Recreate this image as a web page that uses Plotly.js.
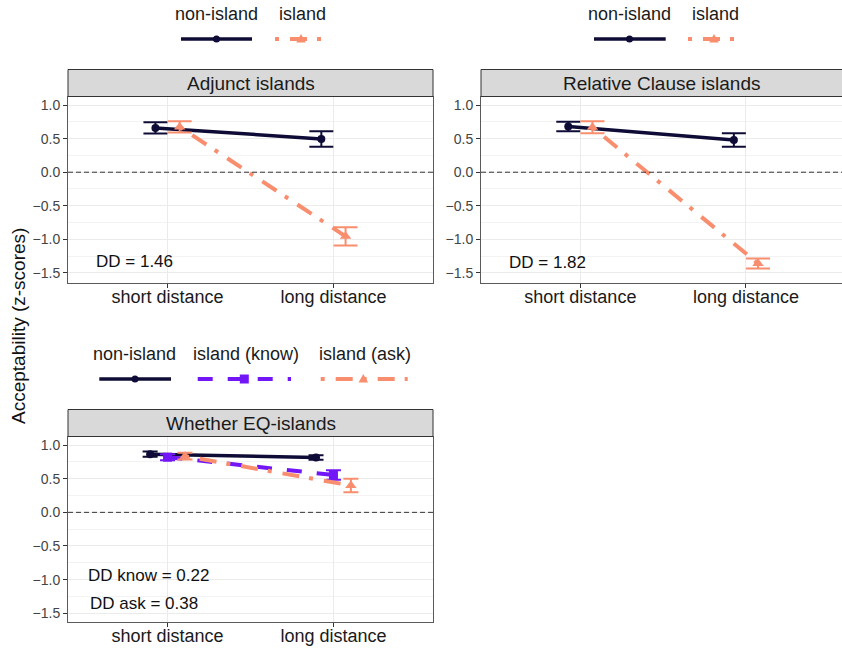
<!DOCTYPE html>
<html><head><meta charset="utf-8">
<script src="https://cdn.plot.ly/plotly-3.0.1.min.js"></script>
<style>html,body{margin:0;padding:0;background:#fff}</style>
</head><body><div id="chart" style="width:842px;height:649px"></div>
<script>
// ---------- DATA ----------
const categories = ["short distance", "long distance"];
const panelTitles = ["Adjunct islands", "Relative Clause islands", "Whether EQ-islands"];
const yTickVals = [-1.5, -1.0, -0.5, 0.0, 0.5, 1.0];
const ddPanel1 = ["DD = 1.46"];
const ddPanel2 = ["DD = 1.82"];
const ddPanel3 = ["DD know = 0.22", "DD ask = 0.38"];
const legendNames2 = ["non-island", "island"];
const legendNames3 = ["non-island", "island (know)", "island (ask)"];

// Adjunct islands
const adjNonIsland   = [0.66, 0.495];
const adjNonIslandSE = [0.085, 0.115];
const adjIsland      = [0.675, -0.955];
const adjIslandSE    = [0.085, 0.135];
// Relative Clause islands
const rcNonIsland    = [0.68, 0.48];
const rcNonIslandSE  = [0.07, 0.10];
const rcIsland       = [0.67, -1.36];
const rcIslandSE     = [0.09, 0.075];
// Whether EQ-islands
const wqNonIsland    = [0.865, 0.815];
const wqNonIslandSE  = [0.04, 0.035];
const wqKnow         = [0.82, 0.555];
const wqKnowSE       = [0.045, 0.07];
const wqAsk          = [0.835, 0.40];
const wqAskSE        = [0.05, 0.10];

// ---------- STYLE ----------
const W = 842, H = 649;
const FONT = "Liberation Sans, Arial, Helvetica, sans-serif";
const px2x = p => p / W;
const px2y = p => 1 - p / H;
const ST = {
  non:   {color: "#0e0c36", dash: "solid", symbol: "circle", size: 8, width: 3.5},
  isl:   {color: "#f98e6f", dash: "4px,11px,17px,10px", symbol: "triangle-up", size: 10, width: 4},
  know:  {color: "#7316f7", dash: "15px,15px", symbol: "square", size: 9, width: 4},
  ask:   {color: "#f98e6f", dash: "4px,11px,17px,10px", symbol: "triangle-up", size: 10, width: 4}
};

function mk(ax, vals, se, offset, st, ebw, name) {
  return {
    type: "scatter", mode: "lines+markers", name: name,
    xaxis: "x" + (ax === 1 ? "" : ax), yaxis: "y" + (ax === 1 ? "" : ax),
    x: categories.map((c, i) => i + 1 + offset),
    y: vals,
    line: {color: st.color, width: st.width, dash: st.dash},
    marker: {color: st.color, symbol: st.symbol, size: st.size, line: {width: 0}},
    error_y: {type: "data", array: se, visible: true, color: st.color, thickness: 2, width: ebw},
    showlegend: false, hoverinfo: "skip"
  };
}

const traces = [
  mk(1, adjNonIsland, adjNonIslandSE, -0.073, ST.non, 12, "non-island"),
  mk(1, adjIsland, adjIslandSE, 0.073, ST.isl, 12, "island"),
  mk(2, rcNonIsland, rcNonIslandSE, -0.073, ST.non, 12, "non-island"),
  mk(2, rcIsland, rcIslandSE, 0.073, ST.isl, 12, "island"),
  mk(3, wqNonIsland, wqNonIslandSE, -0.105, ST.non, 7.5, "non-island"),
  mk(3, wqKnow, wqKnowSE, 0, ST.know, 7.5, "island (know)"),
  mk(3, wqAsk, wqAskSE, 0.105, ST.ask, 7.5, "island (ask)")
];

function xax(dom, rng, anchor) {
  return {
    domain: dom, range: rng, anchor: anchor, tickvals: [1, 2], ticktext: categories,
    showgrid: true, gridcolor: "#ebebeb", gridwidth: 1, zeroline: false,
    showline: true, mirror: true, linecolor: "#5a5a5a", linewidth: 1,
    ticks: "outside", ticklen: 4, tickcolor: "#333", tickwidth: 1, ticklabelstandoff: -7,
    tickfont: {family: FONT, size: 18, color: "#1a1a1a"}, fixedrange: true
  };
}
function yax(dom, rng, anchor) {
  return {
    domain: dom, range: rng, anchor: anchor, tickvals: yTickVals, tickformat: ".1f",
    showgrid: true, gridcolor: "#ebebeb", gridwidth: 1, zeroline: false,
    minor: {dtick: 0.25, tick0: 0, showgrid: true, gridcolor: "#f3f3f3", gridwidth: 1, ticks: ""},
    showline: true, mirror: true, linecolor: "#5a5a5a", linewidth: 1,
    ticks: "outside", ticklen: 4, tickcolor: "#333", tickwidth: 1,
    tickfont: {family: FONT, size: 14, color: "#444"}, fixedrange: true
  };
}

const topDom = [px2y(283), px2y(97)];
const botDom = [px2y(622), px2y(437)];
const leftDom = [px2x(68), px2x(433)];
const rightDom = [px2x(481), 1];

const shapes = [];
const annotations = [];

// zero dashed lines
["x", "x2", "x3"].forEach((xa, i) => {
  shapes.push({type: "line", xref: xa + " domain", yref: "y" + (i ? i + 1 : ""), x0: 0, x1: 1, y0: 0, y1: 0,
    line: {color: "#333", width: 1, dash: "5px,3px"}});
});

// strips
function strip(x0, x1, y0, y1, text) {
  shapes.push({type: "rect", xref: "paper", yref: "paper", x0: px2x(x0), x1: px2x(x1), y0: px2y(y1), y1: px2y(y0),
    fillcolor: "#d9d9d9", line: {color: "#333", width: 1}});
  annotations.push({xref: "paper", yref: "paper", x: px2x((x0 + x1) / 2), y: px2y((y0 + y1) / 2),
    text: text, showarrow: false, xanchor: "center", yanchor: "middle",
    font: {family: FONT, size: 19, color: "#1a1a1a"}});
}
strip(68, 433, 69.5, 96.5, panelTitles[0]);
strip(481, 842.5, 69.5, 96.5, panelTitles[1]);
strip(68, 433, 409.5, 436.5, panelTitles[2]);

// DD annotations
function dd(xa, ya, x, y, text) {
  annotations.push({xref: xa, yref: ya, x: x, y: y, text: text, showarrow: false,
    xanchor: "center", yanchor: "middle", font: {family: FONT, size: 17, color: "#111"}});
}
dd("x", "y", 0.80, -1.335, ddPanel1[0]);
dd("x2", "y2", 0.80, -1.35, ddPanel2[0]);
dd("x3", "y3", 0.887, -0.94, ddPanel3[0]);
dd("x3", "y3", 0.858, -1.35, ddPanel3[1]);

// legends (labels above keys)
function legKey(label, lx, ly, k0, k1, mx, ky, st) {
  annotations.push({xref: "paper", yref: "paper", x: px2x(lx), y: px2y(ly), text: label, showarrow: false,
    xanchor: "center", yanchor: "middle", font: {family: FONT, size: 18, color: "#1a1a1a"}});
  shapes.push({type: "line", xref: "paper", yref: "paper", x0: px2x(k0), x1: px2x(k1), y0: px2y(ky), y1: px2y(ky),
    line: {color: st.color, width: st.width, dash: st.dash}});
  const base = {xref: "paper", yref: "paper", xsizemode: "pixel", ysizemode: "pixel",
    xanchor: px2x(mx), yanchor: px2y(ky), fillcolor: st.color, line: {width: 0}};
  if (st.symbol === "circle") {
    shapes.push(Object.assign({type: "circle", x0: -3.5, x1: 3.5, y0: -3.5, y1: 3.5}, base));
  } else if (st.symbol === "square") {
    shapes.push(Object.assign({type: "path", path: "M-4.5,-4.5L4.5,-4.5L4.5,4.5L-4.5,4.5Z"}, base));
  } else {
    shapes.push(Object.assign({type: "path", path: "M0,5L-4.8,-3.5L4.8,-3.5Z"}, base));
  }
}
legKey(legendNames2[0], 216.7, 14, 181, 252, 216.5, 39, ST.non);
legKey(legendNames2[1], 302, 14, 275, 324, 301, 39, ST.isl);
legKey(legendNames2[0], 629.5, 14, 594, 665.7, 629.5, 39, ST.non);
legKey(legendNames2[1], 715.5, 14, 688, 737, 714, 39, ST.isl);
legKey(legendNames3[0], 134.5, 354, 99.3, 171, 135, 379, ST.non);
legKey(legendNames3[1], 245.8, 354, 197.7, 291, 244.3, 379, ST.know);
legKey(legendNames3[2], 364.7, 354, 320.7, 407.7, 363.3, 379, ST.ask);

// y title
annotations.push({xref: "paper", yref: "paper", x: px2x(18), y: px2y(326), text: "Acceptability (z-scores)",
  showarrow: false, textangle: -90, xanchor: "center", yanchor: "middle",
  font: {family: FONT, size: 19, color: "#111"}});

const layout = {
  width: W, height: H, margin: {l: 0, r: 0, t: 0, b: 0},
  paper_bgcolor: "#fff", plot_bgcolor: "#fff", showlegend: false, hovermode: false,
  font: {family: FONT},
  xaxis: xax(leftDom, [0.4, 2.6], "y"),
  yaxis: yax(topDom, [-1.65, 1.12], "x"),
  xaxis2: xax(rightDom, [0.4, 2.58], "y2"),
  yaxis2: yax(topDom, [-1.65, 1.12], "x2"),
  xaxis3: xax(leftDom, [0.4, 2.6], "y3"),
  yaxis3: yax(botDom, [-1.63, 1.12], "x3"),
  shapes: shapes, annotations: annotations
};

Plotly.newPlot("chart", traces, layout, {displayModeBar: false, staticPlot: true});
</script>
</body></html>
